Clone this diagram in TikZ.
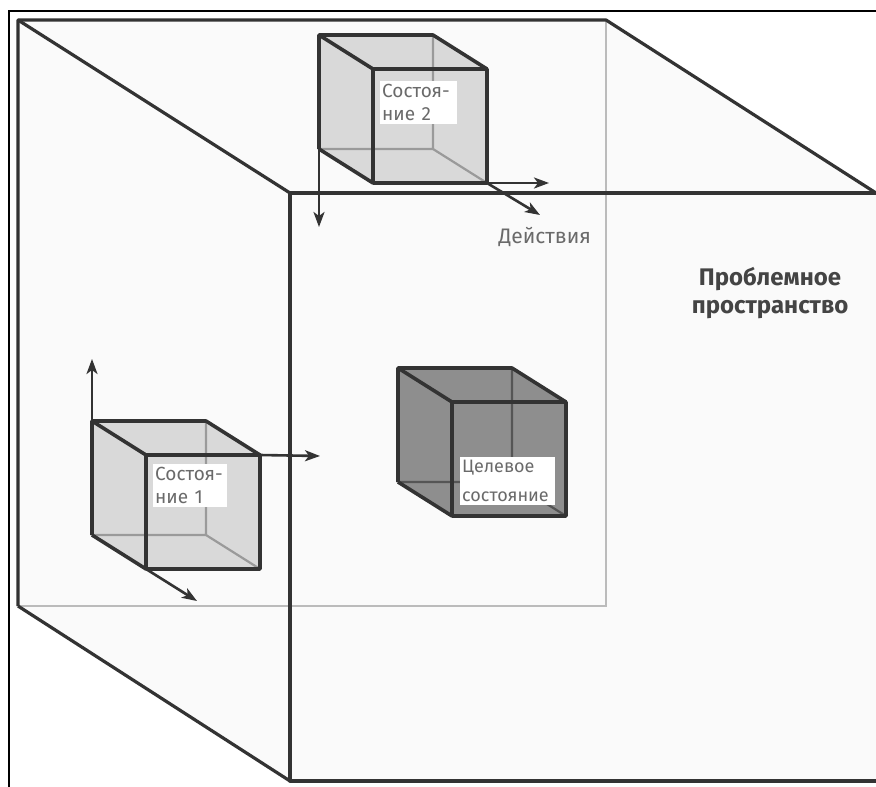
\documentclass[tikz,border=0pt]{standalone}
\usepackage{fontspec}
\setmainfont{Fira Sans}
\usetikzlibrary{arrows.meta}

\definecolor{edgedark}{HTML}{333333}
\definecolor{backedge}{HTML}{BBBBBB}
\definecolor{spacefill}{HTML}{FAFAFA}
\definecolor{cubelight}{HTML}{D9D9D9}
\definecolor{cubedark}{HTML}{8E8E8E}
\definecolor{hidlight}{HTML}{9A9A9A}
\definecolor{hiddark}{HTML}{555555}
\definecolor{labelgray}{HTML}{6A6A6A}
\definecolor{headgray}{HTML}{444444}

\tikzset{
  frameline/.style={draw=black, line width=2.6pt},
  spaceedge/.style={draw=edgedark, line width=3.2pt, line join=round},
  spaceback/.style={draw=backedge, line width=2.6pt},
  cubeedge/.style={draw=edgedark, line width=3.6pt, line join=round},
  hiddenedge/.style={line width=2.2pt},
  actarrow/.style={draw=edgedark, line width=2.6pt,
    -{Stealth[length=15pt, width=11pt, inset=4pt]}},
  statelabel/.style={fill=white, align=left, text=labelgray,
    font=\fontsize{19}{23}\selectfont, inner xsep=2pt, inner ysep=3pt,
    anchor=north west},
  pics/statecube/.style n args={2}{code={
    \coordinate (-btl) at (0,0);
    \coordinate (-btr) at (114,0);
    \coordinate (-bbl) at (0,114);
    \coordinate (-bbr) at (114,114);
    \coordinate (-ftl) at (54,34);
    \coordinate (-ftr) at (168,34);
    \coordinate (-fbl) at (54,148);
    \coordinate (-fbr) at (168,148);
    \fill[#1] (-btl) -- (-btr) -- (-ftr) -- (-fbr) -- (-fbl) -- (-bbl) -- cycle;
    \draw[hiddenedge, draw=#2] (-btr) -- (-bbr) -- (-bbl) (-bbr) -- (-fbr);
    \draw[cubeedge] (-ftl) rectangle (-fbr);
    \draw[cubeedge] (-bbl) -- (-btl) -- (-btr) -- (-ftr)
      (-btl) -- (-ftl) (-bbl) -- (-fbl);
  }}
}

\begin{document}
\begin{tikzpicture}[x=1pt, y=-1pt]
\useasboundingbox (0,0) rectangle (876,787);
\fill[white] (0,0) rectangle (876,787);

% problem space: back face B, front face F
\coordinate (B1) at (18,20);
\coordinate (B2) at (606,20);
\coordinate (B3) at (606,606);
\coordinate (B4) at (18,606);
\coordinate (F1) at (290,193);
\coordinate (F2) at (876,193);
\coordinate (F3) at (876,781);
\coordinate (F4) at (290,781);

\fill[spacefill] (B1) -- (B2) -- (F2) -- (F3) -- (F4) -- (B4) -- cycle;
\draw[spaceback] (B2) -- (B3) -- (B4);
\draw[spaceedge] (B4) -- (B1) -- (B2) -- (F2);
\draw[spaceedge] (B1) -- (F1);
\draw[spaceedge] (B4) -- (F4);
\draw[spaceedge] (F2) -- (F1) -- (F4) -- (F3);

% outer frame
\draw[frameline] (9,787) -- (9,11) -- (876,11);

% states
\pic (c2) at (319,35) {statecube={cubelight}{hidlight}};
\pic (c1) at (92,421) {statecube={cubelight}{hidlight}};
\pic (cg) at (398,368) {statecube={cubedark}{hiddark}};

% actions leaving the states
\coordinate (c2down) at (319,227);
\coordinate (c2right) at (549,183);
\coordinate (c2diag) at (540,215);
\draw[actarrow] (c2-bbl) -- (c2down);
\draw[actarrow] (c2-fbr) -- (c2right);
\draw[actarrow] (c2-fbr) -- (c2diag);

\coordinate (c1up) at (92,359);
\coordinate (c1right) at (320,456);
\coordinate (c1diag) at (197,601);
\draw[actarrow] (c1-btl) -- (c1up);
\draw[actarrow] (c1-ftr) -- (c1right);
\draw[actarrow] (c1-fbl) -- (c1diag);

% labels
\node[statelabel, text width=73pt] (l2) at (380,81) {Состоя-\\ние 2};
\node[statelabel, text width=70pt] (l1) at (153,464) {Состоя-\\ние 1};
\node[statelabel, text width=91pt, font=\fontsize{18}{29}\selectfont] (lg) at (460,457) {Целевое\\состояние};

\node[anchor=base west, text=labelgray, font=\fontsize{21}{24}\selectfont] (act) at (495,243) {Действия};

\node[align=center, text=headgray, font=\bfseries\fontsize{24}{28}\selectfont] (space) at (770,293) {Проблемное\\пространство};
\end{tikzpicture}
\end{document}
